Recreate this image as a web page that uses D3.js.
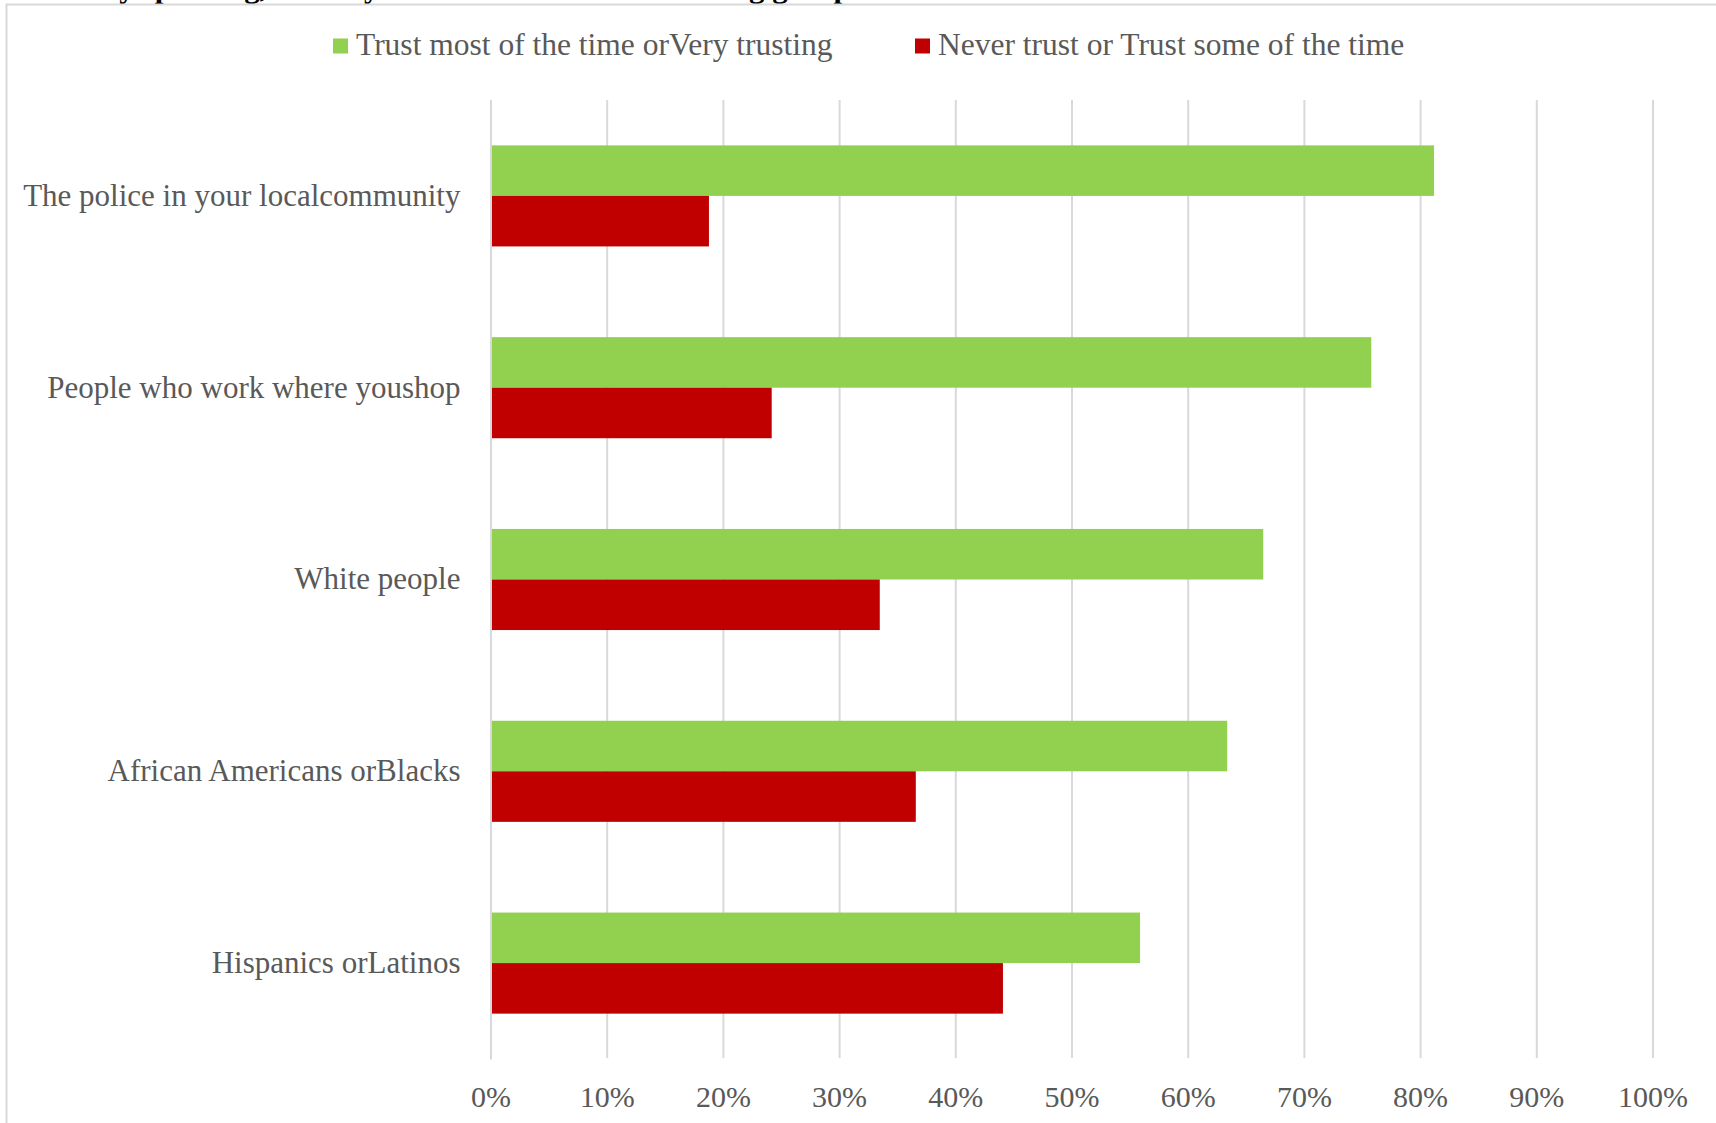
<!DOCTYPE html>
<html>
<head>
<meta charset="utf-8">
<script src="https://cdn.jsdelivr.net/npm/d3@7"></script>
<style>
  html, body { margin: 0; padding: 0; background: #ffffff; }
  svg { display: block; }
  text { font-family: "Liberation Serif", "DejaVu Serif", serif; }
</style>
</head>
<body>
<svg id="chart" width="1716" height="1123"></svg>
<script>
// Survey groups, top to bottom
const categories = [
  "The police in your localcommunity",
  "People who work where youshop",
  "White people",
  "African Americans orBlacks",
  "Hispanics orLatinos"
];
// Share of respondents, in percent
const trustValues = [81.2, 75.8, 66.5, 63.4, 55.9];
const distrustValues = [18.8, 24.2, 33.5, 36.6, 44.1];
const seriesNames = ["Trust most of the time orVery trusting", "Never trust or Trust some of the time"];
const tickValues = [0, 10, 20, 30, 40, 50, 60, 70, 80, 90, 100];
const tickLabels = ["0%", "10%", "20%", "30%", "40%", "50%", "60%", "70%", "80%", "90%", "100%"];
const chartTitle = "Generally speaking, would you trust each of the following groups?";

const seriesColors = ["#92d050", "#c00000"];
const textColor = "#595959";
const gridColor = "#d9d9d9";

const svg = d3.select("#chart");
const W = 1716, H = 1123;
const plot = { left: 490.5, right: 1652.5, top: 100, bottom: 1059 };

svg.append("rect").attr("width", W).attr("height", H).attr("fill", "#ffffff");

// Title line above the chart frame
svg.append("text")
  .attr("x", 4).attr("y", -3)
  .attr("font-size", 31).attr("font-weight", "bold")
  .attr("fill", "#000000")
  .text(chartTitle);

// Chart frame
svg.append("path")
  .attr("d", `M6.5,${H + 2}V4.5H${W + 2}`)
  .attr("fill", "none").attr("stroke", gridColor).attr("stroke-width", 2);

const x = d3.scaleLinear().domain([0, 100]).range([plot.left, plot.right]);
const y = d3.scaleBand().domain(categories)
  .range([plot.top, plot.bottom])
  .paddingInner(0.473).paddingOuter(0.2365);
const sub = d3.scaleBand().domain([0, 1]).range([0, y.bandwidth()]);

// Vertical gridlines and percent labels
const xAxis = svg.append("g")
  .attr("transform", `translate(0,${plot.bottom - 1})`)
  .call(d3.axisBottom(x).tickValues(tickValues)
    .tickFormat((d, i) => tickLabels[i])
    .tickSize(-(plot.bottom - 1 - plot.top)).tickSizeOuter(0));
xAxis.select(".domain").remove();
xAxis.selectAll(".tick line").attr("stroke", gridColor).attr("stroke-width", 2);
xAxis.selectAll(".tick text")
  .attr("y", 49).attr("dy", 0)
  .attr("font-size", 30)
  .attr("font-family", "Liberation Serif, serif")
  .attr("fill", textColor);

// Bars
const rows = categories.map((c, i) => ({ cat: c, vals: [trustValues[i], distrustValues[i]] }));
const groups = svg.append("g").selectAll("g").data(rows).join("g")
  .attr("transform", d => `translate(0,${y(d.cat)})`);
groups.selectAll("rect")
  .data(d => d.vals.map((v, k) => ({ v, k })))
  .join("rect")
  .attr("x", x(0))
  .attr("y", d => sub(d.k))
  .attr("width", d => x(d.v) - x(0))
  .attr("height", sub.bandwidth())
  .attr("fill", d => seriesColors[d.k]);

// Category axis with labels
const yAxis = svg.append("g")
  .attr("transform", `translate(${plot.left},0)`)
  .call(d3.axisLeft(y).tickSize(0).tickSizeOuter(0).tickPadding(30));
yAxis.select(".domain").attr("stroke", gridColor).attr("stroke-width", 2);
yAxis.selectAll(".tick text")
  .attr("font-size", 31)
  .attr("font-family", "Liberation Serif, serif")
  .attr("fill", textColor);

// Legend
const legendItems = [
  { name: seriesNames[0], color: seriesColors[0], sx: 333, tx: 356 },
  { name: seriesNames[1], color: seriesColors[1], sx: 915, tx: 938 }
];
const legend = svg.append("g");
legend.selectAll("rect").data(legendItems).join("rect")
  .attr("x", d => d.sx).attr("y", 38.5)
  .attr("width", 15).attr("height", 15)
  .attr("fill", d => d.color);
legend.selectAll("text").data(legendItems).join("text")
  .attr("x", d => d.tx).attr("y", 55)
  .attr("font-size", 31.5)
  .attr("fill", textColor)
  .text(d => d.name);
</script>
</body>
</html>
